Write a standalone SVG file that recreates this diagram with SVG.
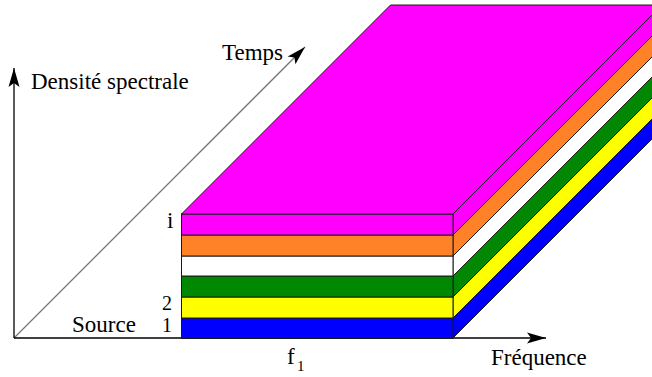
<svg xmlns="http://www.w3.org/2000/svg" width="652" height="377" viewBox="0 0 652 377">
<style>
text{font-family:"Liberation Serif","Times New Roman",serif;font-size:23px;fill:#000}
.num{font-size:20px}
.face{stroke:#1a1a1a;stroke-width:1;stroke-linejoin:miter}
.axis{stroke:#000;stroke-width:1.3;fill:none}
.time{stroke:#777;stroke-width:1.3;fill:none}
</style>
<defs>
<marker id="ah" markerUnits="userSpaceOnUse" markerWidth="24" markerHeight="14" viewBox="-20 -7 24 14" refX="0" refY="0" orient="auto" overflow="visible">
<path d="M0,0 L-19,-5.5 L-15,0 L-19,5.5 Z" fill="#000"/>
</marker>
</defs>
<rect width="652" height="377" fill="#fff"/>
<g id="connectors">
<line class="time" x1="14" y1="338" x2="305" y2="47" marker-end="url(#ah)"/>
<line class="axis" x1="14" y1="338" x2="14" y2="68" marker-end="url(#ah)"/>
<line class="axis" x1="14" y1="338" x2="546" y2="338" marker-end="url(#ah)"/>
</g>
<g id="layer-1">
<polygon class="face" fill="#0000ff" points="453,318 662,109 662,129 453,338"/>
<rect class="face" fill="#0000ff" x="181.5" y="318" width="271.5" height="20.5"/>
</g>
<g id="layer-2">
<polygon class="face" fill="#ffff00" points="453,297 662,88 662,109 453,318"/>
<rect class="face" fill="#ffff00" x="181.5" y="297" width="271.5" height="21"/>
</g>
<g id="layer-3">
<polygon class="face" fill="#008800" points="453,276 662,67 662,88 453,297"/>
<rect class="face" fill="#008800" x="181.5" y="276" width="271.5" height="21"/>
</g>
<g id="layer-4">
<polygon class="face" fill="#ffffff" points="453,256 662,47 662,67 453,276"/>
<rect class="face" fill="#ffffff" x="181.5" y="256" width="271.5" height="20"/>
</g>
<g id="layer-5">
<polygon class="face" fill="#ff8228" points="453,235 662,26 662,47 453,256"/>
<rect class="face" fill="#ff8228" x="181.5" y="235" width="271.5" height="21"/>
</g>
<g id="layer-i">
<polygon class="face" fill="#ff00ff" points="453,214 662,5 662,26 453,235"/>
<rect class="face" fill="#ff00ff" x="181.5" y="214" width="271.5" height="21"/>
<polygon class="face" fill="#ff00ff" points="181.5,214 453,214 662,5 390.5,5"/>
</g>
<g id="labels">
<text x="222" y="60">Temps</text>
<text x="31" y="89">Densité spectrale</text>
<text x="167" y="228">i</text>
<text class="num" x="162" y="310">2</text>
<text x="72" y="332">Source</text>
<text class="num" x="162" y="332">1</text>
<text x="287" y="364">f</text>
<text x="297" y="371" style="font-size:15px">1</text>
<text x="491" y="365">Fréquence</text>
</g>
</svg>
